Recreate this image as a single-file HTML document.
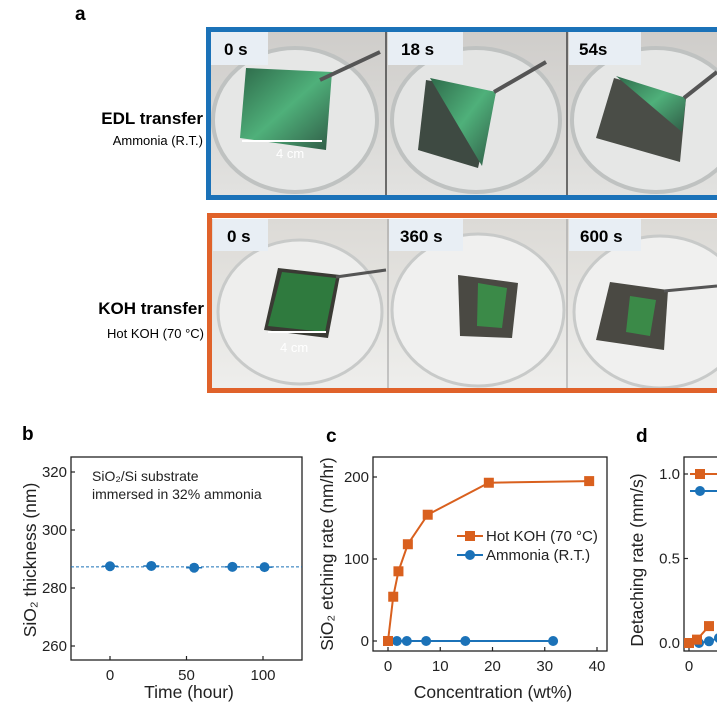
<!DOCTYPE html>
<html><head><meta charset="utf-8"><style>
html,body{margin:0;padding:0;background:#fff;}
svg{display:block;font-family:"Liberation Sans",Arial,sans-serif;}
</style></head><body>
<svg id="fig" width="717" height="718" viewBox="0 0 717 718" xmlns="http://www.w3.org/2000/svg">
<defs>
<linearGradient id="bgA" x1="0" y1="0" x2="0" y2="1"><stop offset="0" stop-color="#cfcdca"/><stop offset="1" stop-color="#e2e2e0"/></linearGradient>
<linearGradient id="grA" x1="0" y1="0" x2="1" y2="1"><stop offset="0" stop-color="#2e6a4a"/><stop offset="0.5" stop-color="#4fb07a"/><stop offset="1" stop-color="#2f5a45"/></linearGradient>
<linearGradient id="bgB" x1="0" y1="0" x2="0" y2="1"><stop offset="0" stop-color="#dcdad6"/><stop offset="1" stop-color="#eeeeec"/></linearGradient>
<clipPath id="cA"><rect x="211" y="32" width="506" height="163"/></clipPath>
<clipPath id="cB"><rect x="212" y="219" width="505" height="169"/></clipPath>
</defs>

<text x="75" y="20" font-size="19" font-weight="bold">a</text>

<g clip-path="url(#cA)">
  <rect x="211" y="32" width="506" height="163" fill="url(#bgA)"/>
  <ellipse cx="295" cy="120" rx="82" ry="72" fill="#e6e7e6" stroke="#bfc2c1" stroke-width="4"/>
  <polygon points="246,68 332,72 326,150 240,138" fill="url(#grA)"/>
  <line x1="320" y1="80" x2="380" y2="52" stroke="#555" stroke-width="4"/>
  <ellipse cx="476" cy="120" rx="84" ry="72" fill="#e4e5e4" stroke="#bfc2c1" stroke-width="4"/>
  <polygon points="426,80 496,92 478,168 418,150" fill="#3e4a42"/>
  <polygon points="430,78 496,92 482,166" fill="url(#grA)"/>
  <line x1="494" y1="92" x2="546" y2="62" stroke="#555" stroke-width="4"/>
  <ellipse cx="656" cy="120" rx="84" ry="72" fill="#e6e7e6" stroke="#bfc2c1" stroke-width="4"/>
  <polygon points="614,78 686,98 680,162 596,138" fill="#4a4d47"/>
  <polygon points="616,76 686,98 682,132" fill="url(#grA)"/>
  <line x1="684" y1="98" x2="717" y2="72" stroke="#555" stroke-width="4"/>
  <line x1="386" y1="32" x2="386" y2="195" stroke="#444" stroke-width="1.5"/>
  <line x1="567" y1="32" x2="567" y2="195" stroke="#444" stroke-width="1.5"/>
  <line x1="242" y1="141" x2="322" y2="141" stroke="#fff" stroke-width="2"/>
  <text x="276" y="158" font-size="13" fill="#fff">4 cm</text>
</g>
<rect x="208.5" y="29.5" width="520" height="168" fill="none" stroke="#1b72b8" stroke-width="5"/>
<g font-size="17" font-weight="bold">
<rect x="211" y="32" width="57" height="33" fill="#e8eef4"/>
<text x="224" y="55">0 s</text>
<rect x="388" y="32" width="75" height="33" fill="#e8eef4"/>
<text x="401" y="55">18 s</text>
<rect x="569" y="32" width="72" height="33" fill="#e8eef4"/>
<text x="579" y="55">54s</text>
</g>
<text x="203" y="124" font-size="17" font-weight="bold" text-anchor="end">EDL transfer</text>
<text x="203" y="145" font-size="13" text-anchor="end">Ammonia (R.T.)</text>

<g clip-path="url(#cB)">
  <rect x="212" y="219" width="505" height="169" fill="url(#bgB)"/>
  <ellipse cx="300" cy="312" rx="82" ry="72" fill="#eeeeed" stroke="#c8cac9" stroke-width="3"/>
  <polygon points="278,268 340,275 328,338 264,330" fill="#3a3a34"/>
  <polygon points="282,272 336,278 325,332 268,326" fill="#2f7a3e"/>
  <line x1="336" y1="277" x2="386" y2="270" stroke="#555" stroke-width="3"/>
  <line x1="268" y1="332" x2="326" y2="332" stroke="#fff" stroke-width="2"/>
  <text x="280" y="352" font-size="13" fill="#fff">4 cm</text>
  <ellipse cx="478" cy="310" rx="86" ry="76" fill="#f0f0ef" stroke="#c8cac9" stroke-width="3"/>
  <polygon points="458,275 518,283 512,338 460,336" fill="#4a4943"/>
  <polygon points="478,283 507,288 502,328 477,326" fill="#3b8a48"/>
  <ellipse cx="660" cy="312" rx="86" ry="76" fill="#f0f0ef" stroke="#c8cac9" stroke-width="3"/>
  <polygon points="610,282 668,290 664,350 596,340" fill="#4a4943"/>
  <polygon points="630,296 656,300 650,336 626,332" fill="#3b8a48"/>
  <line x1="664" y1="291" x2="717" y2="286" stroke="#555" stroke-width="3"/>
  <line x1="388" y1="219" x2="388" y2="388" stroke="#999" stroke-width="1"/>
  <line x1="567" y1="219" x2="567" y2="388" stroke="#999" stroke-width="1"/>
</g>
<rect x="209.5" y="215.5" width="520" height="175" fill="none" stroke="#e0622a" stroke-width="5"/>
<g font-size="17" font-weight="bold">
<rect x="213" y="219" width="55" height="32" fill="#e8eef4"/>
<text x="227" y="242">0 s</text>
<rect x="389" y="219" width="74" height="32" fill="#e8eef4"/>
<text x="400" y="242">360 s</text>
<rect x="569" y="219" width="72" height="32" fill="#e8eef4"/>
<text x="580" y="242">600 s</text>
</g>
<text x="204" y="314" font-size="17" font-weight="bold" text-anchor="end">KOH transfer</text>
<text x="204" y="338" font-size="13" text-anchor="end">Hot KOH (70 °C)</text>

<text x="22" y="440" font-size="19" font-weight="bold">b</text>
<text x="326" y="442" font-size="19" font-weight="bold">c</text>
<text x="636" y="442" font-size="19" font-weight="bold">d</text>
<g id="charts"></g>
</svg>
<script>
// ---- chart b data ----
const bTimes = [0, 27, 55, 80, 101];
const bThickness = [287.5, 287.6, 287.0, 287.3, 287.2];
const bRef = [287.3];
const bYTicks = [260, 280, 300, 320];
const bXTicks = [0, 50, 100];
// ---- chart c data ----
const cKohConc = [0, 1, 2, 3.8, 7.6, 19.3, 38.5];
const cKohRate = [0, 54, 85, 118, 154, 193, 195];
const cAmmConc = [0, 1.7, 3.6, 7.3, 14.8, 31.6];
const cAmmRate = [0, 0, 0, 0, 0, 0];
const cYTicks = [0, 100, 200];
const cXTicks = [0, 10, 20, 30, 40];
// ---- chart d data ----
const dKohX = [0, 0.8, 2];
const dKohY = [0, 0.02, 0.1];
const dAmmX = [0, 1, 2, 3];
const dAmmY = [0, 0, 0.01, 0.03];
const dYTicks = [0.0, 0.5, 1.0];
const dXTicks = [0];

const NS = "http://www.w3.org/2000/svg";
const root = document.getElementById('charts');
function el(tag, attrs, parent){const e=document.createElementNS(NS,tag);for(const k in attrs)e.setAttribute(k,attrs[k]);(parent||root).appendChild(e);return e;}
function lin(d0,d1,r0,r1){return v=>r0+(v-d0)*(r1-r0)/(d1-d0);}
const BLUE="#1b72b8", ORANGE="#d9601e";

function frame(x0,y0,x1,y1,name){
  const r=el('rect',{x:x0,y:y0,width:x1-x0,height:y1-y0,fill:'none',stroke:'#222','stroke-width':1.3});
  
  
}
function yTicks(ticks,sy,x0,fmt,name){
  ticks.forEach(t=>{
    el('line',{x1:x0,x2:x0+4,y1:sy(t),y2:sy(t),stroke:'#222','stroke-width':1.2});
    const tx=el('text',{x:x0-4,y:sy(t)+5,'font-size':15,'text-anchor':'end',fill:'#222'});
    tx.textContent=fmt(t);
    
    
  });
}
function xTicks(ticks,sx,y1,name){
  ticks.forEach(t=>{
    el('line',{x1:sx(t),x2:sx(t),y1:y1,y2:y1-4,stroke:'#222','stroke-width':1.2});
    const tx=el('text',{x:sx(t),y:y1+20,'font-size':15,'text-anchor':'middle',fill:'#222'});
    tx.textContent=String(t);
    
    
  });
}
function title(txt,x,y,rot,name){
  const t=el('text',{x:x,y:y,'font-size':17.5,'text-anchor':'middle',fill:'#222',transform:rot?`rotate(-90 ${x} ${y})`:''});
  t.textContent=txt;
  
  
}
function series(xs,ys,sx,sy,color,marker,name){
  const pts=xs.map((x,i)=>sx(x)+','+sy(ys[i])).join(' ');
  const pl=el('polyline',{points:pts,fill:'none',stroke:color,'stroke-width':2});
  
  
  xs.forEach((x,i)=>{
    let m;
    if(marker==='sq') m=el('rect',{x:sx(x)-5,y:sy(ys[i])-5,width:10,height:10,fill:color});
    else m=el('circle',{cx:sx(x),cy:sy(ys[i]),r:5,fill:color});
    
    
  });
}

(function(){
  const x0=71,x1=302,y0=457,y1=660;
  const sx=lin(0,100,110,263), sy=lin(260,320,646,472);
  frame(x0,y0,x1,y1,'chart-b-frame');
  yTicks(bYTicks,sy,x0,t=>String(t),'b-y');
  xTicks(bXTicks,sx,y1,'b-x');
  const rl=el('line',{x1:x0,x2:x1,y1:sy(bRef[0]),y2:sy(bRef[0]),stroke:BLUE,'stroke-width':1,'stroke-dasharray':'3,2'});
  
  
  bTimes.forEach((t,i)=>{
    el('line',{x1:sx(t)-8,x2:sx(t)+8,y1:sy(bThickness[i]),y2:sy(bThickness[i]),stroke:BLUE,'stroke-width':1.5});
    const c=el('circle',{cx:sx(t),cy:sy(bThickness[i]),r:5,fill:BLUE});
    
    
  });
  const a=el('text',{x:92,y:481,'font-size':14,fill:'#222'});a.textContent='SiO₂/Si substrate';
  
  
  const b=el('text',{x:92,y:499,'font-size':14,fill:'#222'});b.textContent='immersed in 32% ammonia';
  
  
  title('SiO₂ thickness (nm)',36,560,true,'b-y-axis-title');
  title('Time (hour)',189,698,false,'b-x-axis-title');
})();

(function(){
  const x0=373,x1=607,y0=457,y1=651;
  const sx=lin(0,40,388,597), sy=lin(0,200,641,477);
  frame(x0,y0,x1,y1,'chart-c-frame');
  yTicks(cYTicks,sy,x0,t=>String(t),'c-y');
  xTicks(cXTicks,sx,y1,'c-x');
  series(cAmmConc,cAmmRate,sx,sy,BLUE,'ci','ammonia');
  series(cKohConc,cKohRate,sx,sy,ORANGE,'sq','hot-koh');
  el('line',{x1:457,x2:483,y1:536,y2:536,stroke:ORANGE,'stroke-width':2});
  el('rect',{x:465,y:531,width:10,height:10,fill:ORANGE});
  const l1=el('text',{x:486,y:541,'font-size':15,fill:'#222'});l1.textContent='Hot KOH (70 °C)';
  
  
  el('line',{x1:457,x2:483,y1:555,y2:555,stroke:BLUE,'stroke-width':2});
  el('circle',{cx:470,cy:555,r:5,fill:BLUE});
  const l2=el('text',{x:486,y:560,'font-size':15,fill:'#222'});l2.textContent='Ammonia (R.T.)';
  
  
  title('SiO₂ etching rate (nm/hr)',333,554,true,'c-y-axis-title');
  title('Concentration (wt%)',493,698,false,'c-x-axis-title');
})();

(function(){
  const x0=684,x1=760,y0=457,y1=651;
  const sx=lin(0,1,689,699), sy=lin(0,1,643,474);
  frame(x0,y0,x1,y1,'chart-d-frame');
  yTicks(dYTicks,sy,x0,t=>t.toFixed(1),'d-y');
  xTicks(dXTicks,sx,y1,'d-x');
  series(dAmmX,dAmmY,sx,sy,BLUE,'ci','d-ammonia');
  series(dKohX,dKohY,sx,sy,ORANGE,'sq','d-hot-koh');
  el('line',{x1:690,x2:717,y1:474,y2:474,stroke:ORANGE,'stroke-width':2});
  el('rect',{x:695,y:469,width:10,height:10,fill:ORANGE});
  el('line',{x1:690,x2:717,y1:491,y2:491,stroke:BLUE,'stroke-width':2});
  el('circle',{cx:700,cy:491,r:5,fill:BLUE});
  title('Detaching rate (mm/s)',643,560,true,'d-y-axis-title');
})();
</script>
</body></html>
